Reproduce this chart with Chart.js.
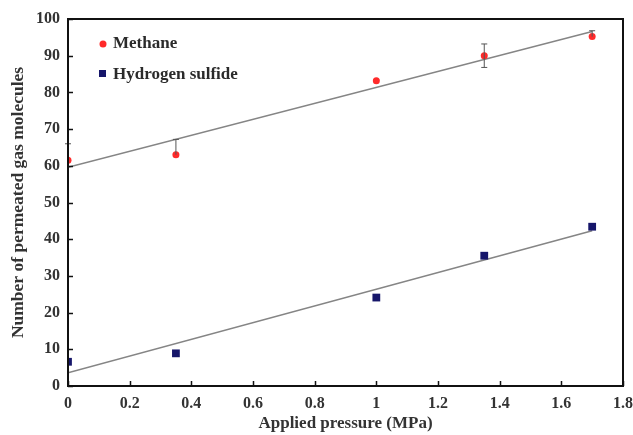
<!DOCTYPE html>
<html>
<head>
<meta charset="utf-8">
<script src="https://cdn.jsdelivr.net/npm/chart.js@4.4.1/dist/chart.umd.min.js"></script>
<style>
  html, body { margin: 0; padding: 0; background: #fff; }
  #wrap { width: 633px; height: 435px; }
</style>
</head>
<body>
<div id="wrap"><canvas id="chart"></canvas></div>
<script>
// data
const pressure = [0, 0.35, 1, 1.35, 1.7];
const methane = [61.5, 63, 83.2, 90, 95.2];
const methaneErrUp = [4.5, 4.2, 0, 3.2, 1.6];
const methaneErrDown = [0, 0, 0, 3.2, 0];
const h2s = [6.6, 8.9, 24.1, 35.5, 43.4];
const fitX = [0, 1.7];
const methaneFit = [59.6, 96.6];
const h2sFit = [3.6, 42.3];
const xTicks = [0, 0.2, 0.4, 0.6, 0.8, 1, 1.2, 1.4, 1.6, 1.8];
const yTicks = [0, 10, 20, 30, 40, 50, 60, 70, 80, 90, 100];

const serif = '"Liberation Serif", "DejaVu Serif", serif';
const red = '#ff2a2a';
const navy = '#16166a';

function pts(xs, ys) {
  return xs.map((x, i) => ({ x: x, y: ys[i] }));
}

// error bars, frame, inward ticks and the legend in the corner
const extras = {
  id: 'extras',
  afterDatasetsDraw(chart) {
    const ctx = chart.ctx;
    const xs = chart.scales.x, ys = chart.scales.y;

    ctx.save();
    ctx.strokeStyle = '#555';
    ctx.lineWidth = 1;
    pressure.forEach((p, i) => {
      const up = methaneErrUp[i], down = methaneErrDown[i];
      if (!up && !down) return;
      const px = xs.getPixelForValue(p);
      const top = ys.getPixelForValue(methane[i] + up);
      const bot = ys.getPixelForValue(methane[i] - down);
      ctx.beginPath();
      ctx.moveTo(px, top); ctx.lineTo(px, bot);
      if (up) { ctx.moveTo(px - 3, top); ctx.lineTo(px + 3, top); }
      if (down) { ctx.moveTo(px - 3, bot); ctx.lineTo(px + 3, bot); }
      ctx.stroke();
    });
    ctx.restore();
  },
  afterDraw(chart) {
    const ctx = chart.ctx;
    const xs = chart.scales.x, ys = chart.scales.y;
    const a = chart.chartArea;
    ctx.save();
    ctx.strokeStyle = '#111';
    ctx.lineWidth = 2;
    ctx.strokeRect(a.left, a.top, a.right - a.left, a.bottom - a.top);

    ctx.lineWidth = 1.5;
    ctx.beginPath();
    xTicks.forEach(v => {
      const px = Math.round(xs.getPixelForValue(v)) + 0.5;
      ctx.moveTo(px, a.bottom); ctx.lineTo(px, a.bottom - 5);
    });
    yTicks.forEach(v => {
      const py = Math.round(ys.getPixelForValue(v)) + 0.5;
      ctx.moveTo(a.left, py); ctx.lineTo(a.left + 5, py);
    });
    ctx.stroke();

    // legend
    ctx.fillStyle = red;
    ctx.beginPath();
    ctx.arc(a.left + 35, a.top + 25, 3.5, 0, Math.PI * 2);
    ctx.fill();
    ctx.fillStyle = navy;
    ctx.fillRect(a.left + 31, a.top + 51, 7, 7);
    ctx.font = 'bold 17px ' + serif;
    ctx.fillStyle = '#2a2a2a';
    ctx.textBaseline = 'middle';
    ctx.fillText('Methane', a.left + 45, a.top + 25);
    ctx.fillText('Hydrogen sulfide', a.left + 45, a.top + 56);
    ctx.restore();
  }
};

new Chart(document.getElementById('chart'), {
  type: 'scatter',
  data: {
    datasets: [
      {
        label: 'Methane fit',
        type: 'line',
        data: pts(fitX, methaneFit),
        borderColor: '#858585',
        borderWidth: 1.5,
        pointRadius: 0,
        order: 3
      },
      {
        label: 'Hydrogen sulfide fit',
        type: 'line',
        data: pts(fitX, h2sFit),
        borderColor: '#858585',
        borderWidth: 1.5,
        pointRadius: 0,
        order: 3
      },
      {
        label: 'Methane',
        data: pts(pressure, methane),
        pointStyle: 'circle',
        pointRadius: 3.5,
        backgroundColor: red,
        borderColor: red,
        borderWidth: 0,
        order: 1
      },
      {
        label: 'Hydrogen sulfide',
        data: pts(pressure, h2s),
        pointStyle: 'rect',
        pointRadius: 5.5,
        backgroundColor: navy,
        borderColor: navy,
        borderWidth: 0,
        order: 1
      }
    ]
  },
  options: {
    responsive: true,
    maintainAspectRatio: false,
    animation: false,
    layout: { padding: { top: 19, right: 10, left: 0, bottom: 0 } },
    plugins: {
      legend: { display: false },
      tooltip: { enabled: false }
    },
    scales: {
      x: {
        type: 'linear',
        min: 0,
        max: 1.8,
        afterBuildTicks: s => { s.ticks = xTicks.map(v => ({ value: v })); },
        afterFit: s => { s.height = 49; s.paddingRight = 0; },
        grid: { display: false, drawTicks: false },
        border: { display: true, color: '#111', width: 2 },
        ticks: {
          color: '#333',
          padding: 8,
          maxRotation: 0,
          font: { family: serif, size: 16, weight: 'bold' },
          callback: v => String(Number(v.toFixed(1)))
        },
        title: {
          display: true,
          text: 'Applied pressure (MPa)',
          color: '#333',
          padding: { top: 2, bottom: 1 },
          font: { family: serif, size: 17, weight: 'bold' }
        }
      },
      y: {
        min: 0,
        max: 100,
        afterBuildTicks: s => { s.ticks = yTicks.map(v => ({ value: v })); },
        afterFit: s => { s.width = 68; },
        grid: { display: false, drawTicks: false },
        border: { display: true, color: '#111', width: 2 },
        ticks: {
          color: '#333',
          padding: 8,
          font: { family: serif, size: 16, weight: 'bold' }
        },
        title: {
          display: true,
          text: 'Number of permeated gas molecules',
          color: '#333',
          padding: { top: 8, bottom: 0 },
          font: { family: serif, size: 17.5, weight: 'bold' }
        }
      }
    }
  },
  plugins: [extras]
});
</script>
</body>
</html>
